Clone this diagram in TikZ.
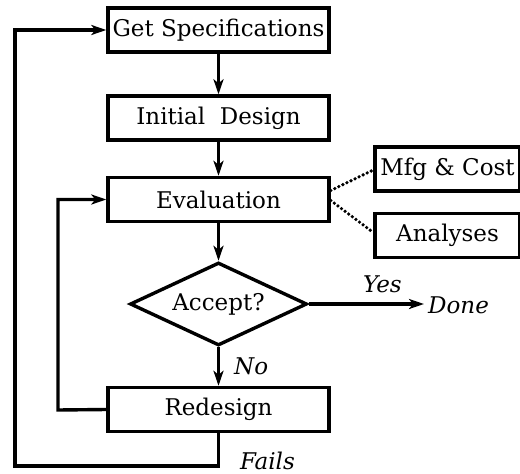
\documentclass[tikz,border=0pt]{standalone}
\usepackage{fontspec}
\setmainfont{DejaVu Serif}
\usetikzlibrary{shapes.geometric,arrows.meta}
\begin{document}
\begin{tikzpicture}[x=1pt,y=-1pt,
  font=\fontsize{23}{26}\selectfont,
  box/.style={draw,line width=3.4pt,rectangle,inner sep=0pt,minimum width=221pt,minimum height=44pt},
  sidebox/.style={draw,line width=3.4pt,rectangle,inner sep=0pt,minimum width=145pt,minimum height=44pt},
  flow/.style={line width=3.4pt,-{Stealth[length=15pt,width=10pt,inset=4pt]}},
  dots/.style={line width=3.6pt,dash pattern=on 0pt off 4.5pt,line cap=round},
  lab/.style={font=\fontsize{23}{26}\selectfont\itshape,inner sep=0pt}]
\useasboundingbox (0,0) rectangle (520,474);
\node[box] (gs) at (218.5,30) {Get Specifications};
\node[box] (id) at (218.5,118) {Initial\ \ Design};
\node[box] (ev) at (218.5,199.5) {Evaluation};
\node[draw,line width=3.4pt,diamond,aspect=2.13,inner sep=0pt,minimum width=177pt,minimum height=83pt] (acc) at (218.5,304) {Accept?};
\node[box] (rd) at (218.5,409.5) {Redesign};
\node[sidebox] (mfg) at (447.5,169) {Mfg \& Cost};
\node[sidebox] (an) at (447.5,235.5) {Analyses};
\node[lab,anchor=west] (done) at (428,305) {Done};
\coordinate (c1) at (15,466);
\coordinate (c2) at (58,410);
\draw[flow] (gs.south) -- (id.north);
\draw[flow] (id.south) -- (ev.north);
\draw[flow] (ev.south) -- (acc.north);
\draw[flow] (acc.south) -- node[lab,right=14pt] {No} (rd.north);
\draw[flow] (acc.east) -- node[lab,above=9pt,xshift=16pt] {Yes} ([xshift=-4pt]acc.east -| done.west);
\draw[flow] (rd.west) -- (c2) |- (ev.west);
\draw[flow] (rd.south) |- (c1) |- (gs.west);
\node[lab,anchor=west] (fails) at (240,461) {Fails};
\draw[dots] ([yshift=9pt]ev.east) -- ([yshift=-1pt]mfg.west);
\draw[dots] ([yshift=-1pt]ev.east) -- ([yshift=3pt]an.west);
\end{tikzpicture}
\end{document}
